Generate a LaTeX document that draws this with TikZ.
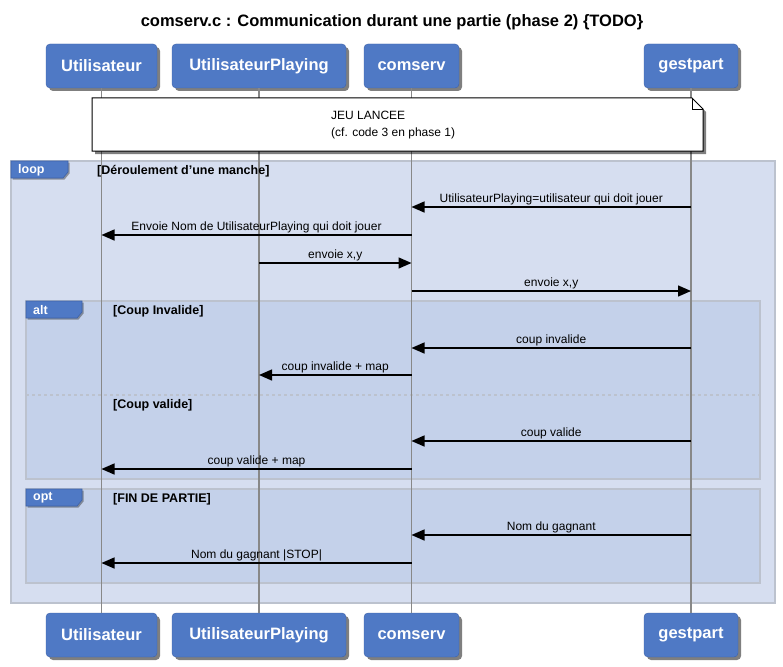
\documentclass[tikz,border=0pt]{standalone}
\usepackage{fontspec}
\setmainfont{Liberation Sans}
\usetikzlibrary{shadows,arrows.meta,calc}
\definecolor{pblue}{RGB}{79,121,197}
\definecolor{pborder}{RGB}{62,98,168}
\definecolor{loopfill}{RGB}{214,222,240}
\definecolor{altfill}{RGB}{196,209,234}
\definecolor{framegray}{RGB}{188,194,206}
\definecolor{lifegray}{RGB}{136,136,136}
\begin{document}
\begin{tikzpicture}[x=1pt,y=-1pt,
  part/.style={draw=pborder, fill=pblue, rounded corners=4pt, text=white,
    font=\fontsize{16.5}{18}\selectfont\bfseries, minimum height=44pt, inner sep=0pt,
    drop shadow={shadow xshift=3pt,shadow yshift=-3pt,opacity=0.5,fill=black}},
  life/.style={draw=lifegray, line width=1.1pt},
  msg/.style={draw=black, line width=1.4pt, -{Triangle[length=13pt,width=11pt]}},
  msglabel/.style={midway, above, inner sep=1.5pt, font=\fontsize{12}{14}\selectfont},
  framebox/.style={draw=framegray, line width=1.6pt},
  tabshape/.style={fill=pblue, draw=pborder, line width=0.6pt,
    drop shadow={shadow xshift=1.5pt,shadow yshift=-1.5pt,opacity=0.35,fill=black}},
  tabtext/.style={anchor=west, text=white, inner sep=0pt, font=\fontsize{12.5}{14}\selectfont\bfseries},
  guard/.style={anchor=west, inner sep=0pt, font=\fontsize{12.5}{14}\selectfont\bfseries},
]
\useasboundingbox (0,0) rectangle (783,666);

% title
\node (title) at (392,22) {\fontsize{16.5}{20}\selectfont\bfseries comserv.c : Communication durant une partie (phase 2) \{TODO\}};

% frames
\draw[framebox, fill=loopfill] (11,161) rectangle (775,603);
\draw[framebox, fill=altfill] (26,301) rectangle (760,479);
\draw[framebox, fill=altfill] (26,489) rectangle (760,583);
\draw[draw=framegray, line width=1.2pt, dashed] (26,395) -- (760,395);

% participants
\node[part, minimum width=111pt] (U)  at (101.5,66) {Utilisateur};
\node[part, minimum width=174pt] (UP) at (259,66) {UtilisateurPlaying};
\node[part, minimum width=95pt]  (C)  at (411.5,66) {comserv};
\node[part, minimum width=94pt]  (G)  at (691,66) {gestpart};
\node[part, minimum width=111pt] (Ub)  at (101.5,635) {Utilisateur};
\node[part, minimum width=174pt] (UPb) at (259,635) {UtilisateurPlaying};
\node[part, minimum width=95pt]  (Cb)  at (411.5,635) {comserv};
\node[part, minimum width=94pt]  (Gb)  at (691,635) {gestpart};

% lifelines
\draw[life] (U.south) -- (Ub.north);
\draw[life] (UP.south) -- (UPb.north);
\draw[life] (C.south) -- (Cb.north);
\draw[life] (G.south) -- (Gb.north);

% note
\filldraw[draw=black, fill=white, line width=1pt,
  drop shadow={shadow xshift=3pt,shadow yshift=-3pt,opacity=0.5,fill=black}]
  (92,98) -- (692,98) -- (703,109) -- (703,151) -- (92,151) -- cycle;
\draw[line width=0.8pt] (692,98) -- (692,109) -- (703,109);
\node[anchor=west, align=left, inner sep=0pt, font=\fontsize{12}{17}\selectfont] (note) at (331,125.5)
  {JEU LANCEE\\(cf. code 3 en phase 1)};

% tabs
\path[tabshape] (11,161) -- (68,161) -- (68,172) -- (63,178) -- (11,178) -- cycle;
\node[tabtext] (looplab) at (18,170) {loop};
\path[tabshape] (26,301) -- (82,301) -- (82,312) -- (77,318) -- (26,318) -- cycle;
\node[tabtext] (altlab) at (33,310) {alt};
\path[tabshape] (26,489) -- (82,489) -- (82,500) -- (77,506) -- (26,506) -- cycle;
\node[tabtext] (optlab) at (33,498) {opt};

% guards
\node[guard] (g1) at (97,171) {[Déroulement d'une manche]};
\node[guard] (g2) at (113,311) {[Coup Invalide]};
\node[guard] (g3) at (113,405) {[Coup valide]};
\node[guard] (g4) at (113,499) {[FIN DE PARTIE]};

% messages
\draw[msg] (G.south |- 0,207) -- (C.south |- 0,207) node[msglabel] {UtilisateurPlaying=utilisateur qui doit jouer};
\draw[msg] (C.south |- 0,235) -- (U.south |- 0,235) node[msglabel] {Envoie Nom de UtilisateurPlaying qui doit jouer};
\draw[msg] (UP.south |- 0,263) -- (C.south |- 0,263) node[msglabel] {envoie x,y};
\draw[msg] (C.south |- 0,291) -- (G.south |- 0,291) node[msglabel] {envoie x,y};
\draw[msg] (G.south |- 0,348) -- (C.south |- 0,348) node[msglabel] {coup invalide};
\draw[msg] (C.south |- 0,375) -- (UP.south |- 0,375) node[msglabel] {coup invalide + map};
\draw[msg] (G.south |- 0,441) -- (C.south |- 0,441) node[msglabel] {coup valide};
\draw[msg] (C.south |- 0,469) -- (U.south |- 0,469) node[msglabel] {coup valide + map};
\draw[msg] (G.south |- 0,535) -- (C.south |- 0,535) node[msglabel] {Nom du gagnant};
\draw[msg] (C.south |- 0,563) -- (U.south |- 0,563) node[msglabel] {Nom du gagnant |STOP|};
\end{tikzpicture}
\end{document}
